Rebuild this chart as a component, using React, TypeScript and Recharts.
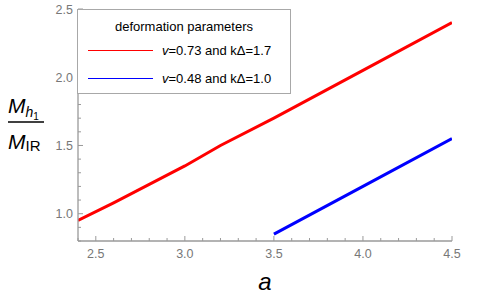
import { LineChart, Line, XAxis, YAxis, Label } from 'recharts'

// red series: v=0.73, kΔ=1.7
const redA = [2.4, 2.6, 2.8, 3.0, 3.2, 3.5, 4.0, 4.5]
const redM = [0.95, 1.08, 1.215, 1.35, 1.5, 1.7, 2.05, 2.4]
// blue series: v=0.48, kΔ=1.0
const blueA = [3.5, 4.0, 4.5]
const blueM = [0.85, 1.2, 1.55]

const xMajor = [2.5, 3.0, 3.5, 4.0, 4.5]
const xMinor = [2.4, 2.6, 2.7, 2.8, 2.9, 3.1, 3.2, 3.3, 3.4, 3.6, 3.7, 3.8, 3.9, 4.1, 4.2, 4.3, 4.4]
const yMajor = [1.0, 1.5, 2.0, 2.5]
const yMinor = [0.8, 0.9, 1.1, 1.2, 1.3, 1.4, 1.6, 1.7, 1.8, 1.9, 2.1, 2.2, 2.3, 2.4]

const redData = redA.map((a, i) => ({ a, m: redM[i] }))
const blueData = blueA.map((a, i) => ({ a, m: blueM[i] }))

const FRAME = '#9a9a9a'
const LABEL = '#777'
const FONT = '"Liberation Sans", Arial, sans-serif'

const isMajor = (v: number, list: number[]) => list.some((t) => Math.abs(t - v) < 1e-6)
const allX = [...xMajor, ...xMinor].sort((a, b) => a - b)
const allY = [...yMajor, ...yMinor].sort((a, b) => a - b)

const series = [
  { name: 'v', rest: '=0.73 and kΔ=1.7', color: '#ff0000', data: redData },
  { name: 'v', rest: '=0.48 and kΔ=1.0', color: '#0000ff', data: blueData },
]

const BottomTick = (props: any) => {
  const { x, y, payload } = props
  const major = isMajor(payload.value, xMajor)
  return (
    <g>
      <line x1={x} y1={y} x2={x} y2={y - (major ? 5 : 3)} stroke={FRAME} />
      {major && (
        <text x={x} y={y + 17} textAnchor="middle" fontSize={12.5} fill={LABEL} fontFamily={FONT}>
          {payload.value.toFixed(1)}
        </text>
      )}
    </g>
  )
}

const TopTick = (props: any) => {
  const { x, y, payload } = props
  const major = isMajor(payload.value, xMajor)
  return <line x1={x} y1={y} x2={x} y2={y + (major ? 5 : 3)} stroke={FRAME} />
}

const LeftTick = (props: any) => {
  const { x, y, payload } = props
  const major = isMajor(payload.value, yMajor)
  return (
    <g>
      <line x1={x} y1={y} x2={x + (major ? 5 : 3)} y2={y} stroke={FRAME} />
      {major && (
        <text x={x - 5} y={y + 4.5} textAnchor="end" fontSize={12.5} fill={LABEL} fontFamily={FONT}>
          {payload.value.toFixed(1)}
        </text>
      )}
    </g>
  )
}

const RightTick = (props: any) => {
  const { x, y, payload } = props
  const major = isMajor(payload.value, yMajor)
  return <line x1={x} y1={y} x2={x - (major ? 5 : 3)} y2={y} stroke={FRAME} />
}

const YTitle = (props: any) => {
  const vb = props.viewBox || { x: 0, y: 9, width: 78, height: 232 }
  const cy = vb.y + vb.height / 2
  return (
    <g fontFamily={FONT} fill="#000">
      <text x={8} y={cy - 12} fontSize={21} fontStyle="italic">
        M
        <tspan fontSize={14} dy={4}>h</tspan>
        <tspan fontSize={10} fontStyle="normal" dy={3}>1</tspan>
      </text>
      <line x1={8} x2={44} y1={cy - 3} y2={cy - 3} stroke="#000" strokeWidth={1.4} />
      <text x={8} y={cy + 24} fontSize={21} fontStyle="italic">
        M<tspan fontSize={15} fontStyle="normal" dy={1.5}>IR</tspan>
      </text>
    </g>
  )
}

const XTitle = (props: any) => {
  const vb = props.viewBox || { x: 78, y: 241, width: 374, height: 62 }
  return (
    <text x={vb.x + vb.width / 2} y={vb.y + 49} textAnchor="middle" fontSize={24} fontStyle="italic" fontFamily={FONT} fill="#000">
      a
    </text>
  )
}

export default function App() {
  return (
    <div style={{ position: 'absolute', left: 0, top: 0, width: 485, height: 303, background: '#fff' }}>
      <LineChart width={485} height={303} margin={{ top: 9, right: 33, bottom: 0, left: 0 }}>
        <XAxis
          xAxisId="b"
          type="number"
          dataKey="a"
          domain={[2.4, 4.5]}
          ticks={allX}
          interval={0}
          height={62}
          tickSize={0}
          tickMargin={0}
          tickLine={false}
          axisLine={{ stroke: FRAME, strokeWidth: 1.3 }}
          tick={<BottomTick />}
          allowDataOverflow
        >
          <Label content={<XTitle />} />
        </XAxis>
        <XAxis
          xAxisId="t"
          orientation="top"
          type="number"
          dataKey="a"
          domain={[2.4, 4.5]}
          ticks={allX}
          interval={0}
          height={0}
          tickSize={0}
          tickMargin={0}
          tickLine={false}
          axisLine={{ stroke: FRAME, strokeWidth: 1.3 }}
          tick={<TopTick />}
          allowDataOverflow
        />
        <YAxis
          yAxisId="l"
          type="number"
          domain={[0.8, 2.5]}
          ticks={allY}
          interval={0}
          width={78}
          tickSize={0}
          tickMargin={0}
          tickLine={false}
          axisLine={{ stroke: FRAME, strokeWidth: 1.3 }}
          tick={<LeftTick />}
          allowDataOverflow
        >
          <Label content={<YTitle />} />
        </YAxis>
        <YAxis
          yAxisId="r"
          orientation="right"
          type="number"
          domain={[0.8, 2.5]}
          ticks={allY}
          interval={0}
          width={0}
          tickSize={0}
          tickMargin={0}
          tickLine={false}
          axisLine={{ stroke: FRAME, strokeWidth: 1.3 }}
          tick={<RightTick />}
          allowDataOverflow
        />
        {series.map((s, i) => (
          <Line
            key={i}
            xAxisId="b"
            yAxisId="l"
            data={s.data}
            dataKey="m"
            type="linear"
            stroke={s.color}
            strokeWidth={3}
            dot={false}
            activeDot={false}
            isAnimationActive={false}
          />
        ))}
      </LineChart>

      {/* legend box */}
      <div
        style={{
          position: 'absolute',
          left: 77,
          top: 9,
          width: 212,
          height: 83,
          background: '#fff',
          border: '1px solid #a8a8a8',
          fontFamily: FONT,
          fontSize: 13,
          color: '#000',
        }}
      >
        <div style={{ position: 'absolute', left: 0, width: 212, top: 9, textAlign: 'center' }}>deformation parameters</div>
        {series.map((s, i) => (
          <div key={i} style={{ position: 'absolute', left: 10, top: 31 + i * 28, height: 18, display: 'flex', alignItems: 'center' }}>
            <div style={{ width: 65, height: 1, background: s.color }} />
            <span style={{ marginLeft: 9 }}>
              <i>{s.name}</i>
              {s.rest}
            </span>
          </div>
        ))}
      </div>
    </div>
  )
}
